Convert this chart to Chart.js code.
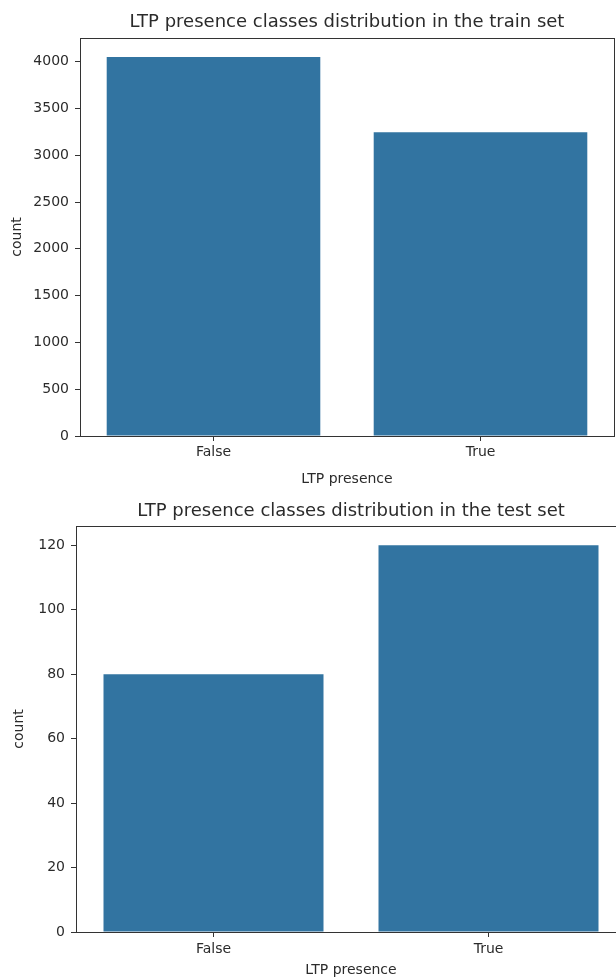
<!DOCTYPE html>
<html>
<head>
<meta charset="utf-8">
<script src="https://cdn.jsdelivr.net/npm/chart.js@4/dist/chart.umd.min.js"></script>
<style>
  html, body { margin: 0; padding: 0; background: #fff; overflow: hidden; }
  body { width: 616px; height: 977px; position: relative; }
  .box { position: absolute; left: 0; }
  #topBox { top: 0; width: 616px; height: 492px; }
  #botBox { top: 490px; width: 640px; height: 500px; }
</style>
</head>
<body>
<div class="box" id="topBox"><canvas id="trainChart"></canvas></div>
<div class="box" id="botBox"><canvas id="testChart"></canvas></div>
<script>
var categories = ["False", "True"];
var trainCounts = [4050, 3245];
var testCounts = [80, 120];
var trainTicks = [0, 500, 1000, 1500, 2000, 2500, 3000, 3500, 4000];
var testTicks = [0, 20, 40, 60, 80, 100, 120];
var xLabel = "LTP presence";
var yLabel = "count";

var barColor = "#3274a1";
var inkColor = "#2b2b2b";
var font = "'DejaVu Sans', sans-serif";

// draws the full axes frame like matplotlib
var framePlugin = {
    id: "frame",
    afterDraw: function (chart) {
        var a = chart.chartArea;
        var ctx = chart.ctx;
        ctx.save();
        ctx.strokeStyle = "#333";
        ctx.lineWidth = 1;
        ctx.strokeRect(Math.round(a.left) + 0.5, Math.round(a.top) + 0.5,
            Math.round(a.right - a.left), Math.round(a.bottom - a.top));
        ctx.restore();
    }
};

function makeChart(el, title, values, yTicks, opt) {
    return new Chart(document.getElementById(el), {
        type: "bar",
        data: {
            labels: categories,
            datasets: [{
                data: values,
                backgroundColor: barColor,
                borderWidth: 0,
                barPercentage: 0.8,
                categoryPercentage: 1.0
            }]
        },
        options: {
            responsive: true,
            maintainAspectRatio: false,
            animation: false,
            layout: { padding: { left: 0, right: opt.padRight, top: 0, bottom: 0 } },
            plugins: {
                legend: { display: false },
                tooltip: { enabled: false },
                title: { display: false }
            },
            scales: {
                // top axis only carries the title so it is centred over the plot area
                top: {
                    type: "category",
                    position: "top",
                    afterFit: function (s) { s.height = opt.topHeight; },
                    grid: { display: false },
                    border: { display: false },
                    ticks: { display: false },
                    title: {
                        display: true, text: title, color: inkColor,
                        font: { family: font, size: 18 },
                        padding: { top: opt.titlePad, bottom: 0 }
                    }
                },
                x: {
                    afterFit: function (s) { s.height = opt.xHeight; },
                    grid: { display: true, offset: false, drawOnChartArea: false, drawTicks: true, tickLength: 5, color: "#333" },
                    border: { display: false },
                    ticks: { color: inkColor, font: { family: font, size: 14 }, padding: opt.xTickPad },
                    title: {
                        display: true, text: xLabel, color: inkColor,
                        font: { family: font, size: 14 },
                        padding: { top: 0, bottom: opt.xTitlePad }
                    }
                },
                y: {
                    min: 0,
                    max: Math.max.apply(null, values) * 1.05,
                    afterFit: function (s) { s.width = opt.yWidth; },
                    afterBuildTicks: function (s) {
                        s.ticks = yTicks.map(function (v) { return { value: v }; });
                    },
                    grid: { display: true, drawOnChartArea: false, drawTicks: true, tickLength: 5, color: "#333" },
                    border: { display: false },
                    ticks: {
                        color: inkColor, font: { family: font, size: 14 }, padding: 6,
                        callback: function (v) { return String(v); }
                    },
                    title: {
                        display: true, text: yLabel, color: inkColor,
                        font: { family: font, size: 14 },
                        padding: { top: opt.yTitlePad, bottom: 0 }
                    }
                }
            }
        },
        plugins: [framePlugin]
    });
}

makeChart("trainChart", "LTP presence classes distribution in the train set", trainCounts, trainTicks,
    { padRight: 2, topHeight: 38, titlePad: 12, xHeight: 56, xTickPad: 3, xTitlePad: 4, yWidth: 80, yTitlePad: 9 });

makeChart("testChart", "LTP presence classes distribution in the test set", testCounts, testTicks,
    { padRight: 14, topHeight: 36, titlePad: 11, xHeight: 58, xTickPad: 4, xTitlePad: 11, yWidth: 76, yTitlePad: 11 });
</script>
</body>
</html>
